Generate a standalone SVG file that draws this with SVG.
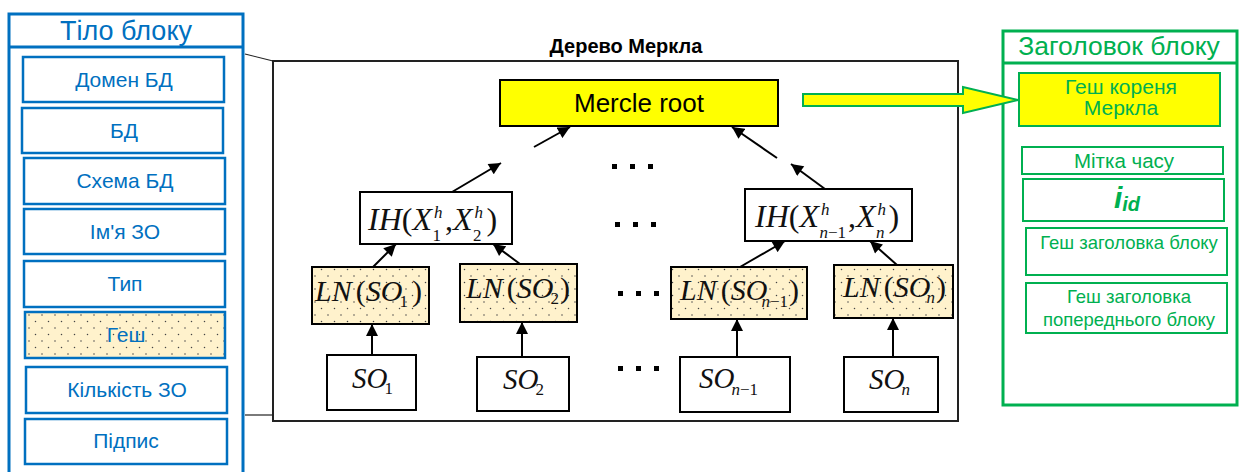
<svg xmlns="http://www.w3.org/2000/svg" width="1239" height="472" viewBox="0 0 1239 472">
  <style>
    .sans { font-family: "Liberation Sans", Arial, sans-serif; }
    .blue-box { fill: #fff; stroke: #0070C0; stroke-width: 2.5; }
    .blue-txt { fill: #0070C0; font-family: "Liberation Sans", Arial, sans-serif; font-size: 21px; text-anchor: middle; }
    .green-box { fill: #fff; stroke: #00B050; stroke-width: 2; }
    .green-txt { fill: #00B050; font-family: "Liberation Sans", Arial, sans-serif; text-anchor: middle; }
    .node { fill: #fff; stroke: #000; stroke-width: 2; }
    .leaf { fill: url(#dots); stroke: #000; stroke-width: 2; }
    .m { font-family: "Liberation Serif", "Times New Roman", serif; font-size: 30px; fill: #111; }
    .i { font-style: italic; }
    .s { font-size: 17px; }
    .edge { stroke: #000; stroke-width: 2; fill: none; marker-end: url(#head); }
    .thin { stroke: #222; stroke-width: 1.2; fill: none; }
  </style>
  <defs>
    <pattern id="dots" patternUnits="userSpaceOnUse" width="13" height="13">
      <rect width="13" height="13" fill="#FFF2CC"/>
      <circle cx="3" cy="3" r="0.75" fill="#444"/>
      <circle cx="9.5" cy="9.5" r="0.75" fill="#444"/>
    </pattern>
    <marker id="head" viewBox="0 0 12 12" refX="12" refY="6" markerWidth="13" markerHeight="12" markerUnits="userSpaceOnUse" orient="auto">
      <path d="M0,0 L12,6 L0,12 z" fill="#000"/>
    </marker>
    <g id="ellipsis">
      <rect x="0" y="0" width="5" height="5" fill="#000"/>
      <rect x="18" y="0" width="5" height="5" fill="#000"/>
      <rect x="36" y="0" width="5" height="5" fill="#000"/>
    </g>
  </defs>

  <!-- Block body panel -->
  <g id="block-body">
    <rect x="9" y="14" width="234" height="470" fill="#fff" stroke="#0070C0" stroke-width="3"/>
    <line x1="9" y1="47" x2="243" y2="47" stroke="#0070C0" stroke-width="3"/>
    <text x="126" y="40" class="blue-txt" style="font-size:27px">Тіло блоку</text>
  </g>
  <g id="body-domain"><rect class="blue-box" x="23" y="57" width="201" height="45"/><text class="blue-txt" x="124" y="87">Домен БД</text></g>
  <g id="body-db"><rect class="blue-box" x="22" y="108" width="201" height="45"/><text class="blue-txt" x="124" y="138">БД</text></g>
  <g id="body-schema"><rect class="blue-box" x="24" y="158" width="201" height="46"/><text class="blue-txt" x="125" y="188">Схема БД</text></g>
  <g id="body-name"><rect class="blue-box" x="24" y="209" width="201" height="45"/><text class="blue-txt" x="125" y="239">Ім'я ЗО</text></g>
  <g id="body-type"><rect class="blue-box" x="24" y="261" width="201" height="46"/><text class="blue-txt" x="125" y="291">Тип</text></g>
  <g id="body-hash"><rect x="25" y="312" width="200" height="46" fill="url(#dots)" stroke="#0070C0" stroke-width="2.5"/><text class="blue-txt" x="126" y="342">Геш</text></g>
  <g id="body-count"><rect class="blue-box" x="26" y="367" width="201" height="46"/><text class="blue-txt" x="127" y="397">Кількість ЗО</text></g>
  <g id="body-sign"><rect class="blue-box" x="25" y="419" width="202" height="45"/><text class="blue-txt" x="126" y="448">Підпис</text></g>

  <!-- Merkle tree frame -->
  <g id="merkle-tree">
    <rect x="273" y="61" width="685" height="360" fill="#fff" stroke="#222" stroke-width="2"/>
    <text x="626" y="53" class="sans" text-anchor="middle" font-size="20" font-weight="bold" fill="#000">Дерево Меркла</text>
  </g>

  <g id="root">
    <rect x="500" y="80" width="278" height="46" fill="#FFFF00" stroke="#000" stroke-width="2"/>
    <text x="639" y="112" class="sans" text-anchor="middle" font-size="26" fill="#000">Mercle root</text>
  </g>

  <!-- Intermediate hash nodes -->
  <g id="ih-1">
    <rect class="node" x="360" y="192" width="152" height="52"/>
    <text class="m" x="368" y="230" style="font-size:32px"><tspan class="i">IH</tspan><tspan>(</tspan><tspan class="i">X</tspan><tspan class="i s" dx="2" dy="-12">h</tspan><tspan class="s" dx="-10" dy="23">1</tspan><tspan dx="4" dy="-11">,</tspan><tspan class="i">X</tspan><tspan class="i s" dx="2" dy="-12">h</tspan><tspan class="s" dx="-10" dy="23">2</tspan><tspan dx="5" dy="-11">)</tspan></text>
  </g>
  <g id="ih-n">
    <rect class="node" x="745" y="189" width="167" height="52"/>
    <text class="m" x="755" y="227" style="font-size:32px"><tspan class="i">IH</tspan><tspan>(</tspan><tspan class="i">X</tspan><tspan class="i s" dx="2" dy="-12">h</tspan><tspan class="s" dx="-10" dy="23"><tspan class="i">n</tspan>−1</tspan><tspan dx="2" dy="-11">,</tspan><tspan class="i">X</tspan><tspan class="i s" dx="2" dy="-12">h</tspan><tspan class="i s" dx="-10" dy="23">n</tspan><tspan dx="4" dy="-11">)</tspan></text>
  </g>

  <!-- Leaf hash nodes -->
  <g id="ln-1">
    <rect class="leaf" x="312" y="267" width="117" height="57"/>
    <text class="m" x="315" y="301"><tspan class="i">LN</tspan><tspan dx="4">(</tspan><tspan class="i">SO</tspan><tspan class="s" dx="-3" dy="6">1</tspan><tspan dx="4" dy="-6">)</tspan></text>
  </g>
  <g id="ln-2">
    <rect class="leaf" x="460" y="264" width="117" height="58"/>
    <text class="m" x="466" y="298"><tspan class="i">LN</tspan><tspan dx="4">(</tspan><tspan class="i">SO</tspan><tspan class="s" dx="-3" dy="6">2</tspan><tspan dx="1" dy="-6">)</tspan></text>
  </g>
  <g id="ln-n1">
    <rect class="leaf" x="671" y="267" width="136" height="52"/>
    <text class="m" x="680" y="300"><tspan class="i">LN</tspan><tspan dx="4">(</tspan><tspan class="i">SO</tspan><tspan class="s" dx="-6" dy="7"><tspan class="i">n</tspan>−1</tspan><tspan dx="1" dy="-7">)</tspan></text>
  </g>
  <g id="ln-n">
    <rect class="leaf" x="834" y="265" width="119" height="53"/>
    <text class="m" x="843" y="297"><tspan class="i">LN</tspan><tspan dx="4">(</tspan><tspan class="i">SO</tspan><tspan class="i s" dx="-4" dy="6">n</tspan><tspan dx="1" dy="-6">)</tspan></text>
  </g>

  <!-- Stored objects -->
  <g id="so-1">
    <rect class="node" x="327" y="355" width="89" height="55"/>
    <text class="m" x="352" y="388" style="font-size:29px"><tspan class="i">SO</tspan><tspan class="s" dx="-3" dy="6">1</tspan></text>
  </g>
  <g id="so-2">
    <rect class="node" x="477" y="357" width="92" height="54"/>
    <text class="m" x="503" y="389" style="font-size:29px"><tspan class="i">SO</tspan><tspan class="s" dx="-3" dy="6">2</tspan></text>
  </g>
  <g id="so-n1">
    <rect class="node" x="680" y="357" width="110" height="55"/>
    <text class="m" x="699" y="388" style="font-size:29px"><tspan class="i">SO</tspan><tspan class="s" dx="-3" dy="7"><tspan class="i">n</tspan>−1</tspan></text>
  </g>
  <g id="so-n">
    <rect class="node" x="844" y="357" width="94" height="55"/>
    <text class="m" x="869" y="389" style="font-size:29px"><tspan class="i">SO</tspan><tspan class="i s" dx="-3" dy="6">n</tspan></text>
  </g>

  <!-- Elided columns / levels -->
  <g id="gaps">
    <use href="#ellipsis" x="612" y="164"/>
    <use href="#ellipsis" x="615" y="222"/>
    <use href="#ellipsis" x="618" y="291"/>
    <use href="#ellipsis" x="618" y="366"/>
  </g>

  <!-- Block header panel -->
  <g id="block-header">
    <rect x="1003" y="31" width="234" height="374" fill="#fff" stroke="#00B050" stroke-width="3"/>
    <line x1="1003" y1="63" x2="1237" y2="63" stroke="#00B050" stroke-width="3"/>
    <text x="1119" y="55" class="green-txt" font-size="26.5">Заголовок блоку</text>
  </g>
  <g id="hdr-merkle-root">
    <rect x="1019" y="73" width="201" height="53" fill="#FFFF00" stroke="#00B050" stroke-width="2"/>
    <text class="green-txt" font-size="21" x="1121" y="94">Геш кореня</text>
    <text class="green-txt" font-size="21" x="1121" y="115">Меркла</text>
  </g>
  <g id="hdr-time"><rect class="green-box" x="1022" y="147" width="201" height="27"/><text class="green-txt" font-size="20.5" x="1124" y="168">Мітка часу</text></g>
  <g id="hdr-id">
    <rect class="green-box" x="1023" y="179" width="201" height="42"/>
    <text class="green-txt" x="1127" y="208" font-weight="bold" font-style="italic"><tspan font-size="30">i</tspan><tspan font-size="20" dy="3">id</tspan></text>
  </g>
  <g id="hdr-hash"><rect class="green-box" x="1026" y="228" width="201" height="47"/><text class="green-txt" font-size="18.5" x="1129" y="249">Геш заголовка блоку</text></g>
  <g id="hdr-prev">
    <rect class="green-box" x="1026" y="283" width="201" height="50"/>
    <text class="green-txt" font-size="18.5" x="1129" y="303">Геш заголовка</text>
    <text class="green-txt" font-size="18.5" x="1129" y="326">попереднього блоку</text>
  </g>

  <!-- Connectors -->
  <g id="connectors">
    <line class="thin" x1="245" y1="54" x2="273" y2="61"/>
    <line class="thin" x1="245" y1="415" x2="273" y2="415"/>
    <line class="edge" x1="452" y1="192" x2="501" y2="163"/>
    <line class="edge" x1="534" y1="147" x2="570" y2="127"/>
    <line class="edge" x1="825" y1="189" x2="791" y2="164"/>
    <line class="edge" x1="777" y1="158" x2="732" y2="127"/>
    <line class="edge" x1="373" y1="267" x2="396" y2="244"/>
    <line class="edge" x1="520" y1="264" x2="493" y2="244"/>
    <line class="edge" x1="740" y1="267" x2="785" y2="241"/>
    <line class="edge" x1="897" y1="265" x2="870" y2="241"/>
    <line class="edge" x1="372" y1="355" x2="372" y2="324"/>
    <line class="edge" x1="522" y1="357" x2="522" y2="322"/>
    <line class="edge" x1="737" y1="357" x2="737" y2="319"/>
    <line class="edge" x1="893" y1="357" x2="893" y2="318"/>
    <polygon points="803,94 963,94 963,87 1018,100 963,113 963,106 803,106" fill="#FFFF00" stroke="#00B050" stroke-width="2"/>
  </g>
</svg>
